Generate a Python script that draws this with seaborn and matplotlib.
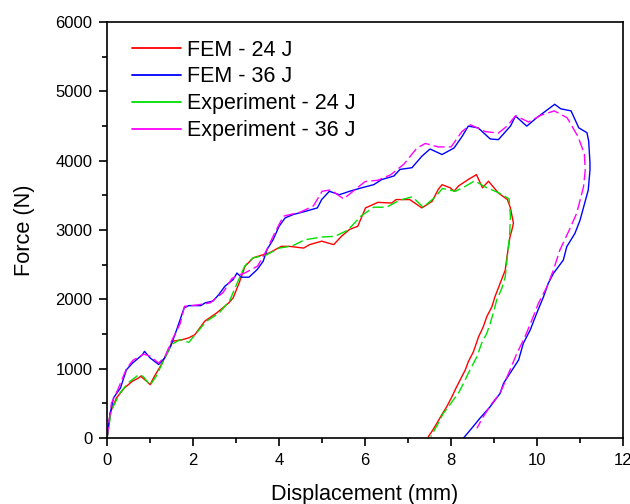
import numpy as np
import pandas as pd
import seaborn as sns
import matplotlib.pyplot as plt
from matplotlib.lines import Line2D
from matplotlib.ticker import MultipleLocator

# FEM - 24 J
fem24_x = [0, 0.07, 0.22, 0.4, 0.59, 0.73, 0.78, 0.92, 1.0, 1.1, 1.24, 1.43, 1.52, 1.76, 1.9, 2.04,
           2.27, 2.55, 2.83, 2.93, 3.07, 3.21, 3.4, 3.63, 3.77, 4.05, 4.24, 4.57, 4.71, 4.99, 5.27,
           5.45, 5.64, 5.83, 6.01, 6.3, 6.62, 6.72, 7.04, 7.32, 7.56, 7.7, 7.79, 7.98, 8.07, 8.17,
           8.4, 8.59, 8.73, 8.87, 9.1, 9.31, 9.38, 9.45, 9.41, 9.37, 9.30, 9.26, 9.14, 9.02, 8.95,
           8.83, 8.75, 8.64, 8.52, 8.40, 8.33, 8.25, 8.13, 8.02, 7.90, 7.78, 7.67, 7.55, 7.47]
fem24_y = [0, 360, 580, 720, 820, 865, 890, 820, 770, 890, 1035, 1275, 1395, 1420, 1445, 1490,
           1685, 1805, 1950, 2020, 2235, 2480, 2600, 2645, 2670, 2765, 2765, 2740, 2790, 2840, 2790,
           2910, 3010, 3055, 3320, 3400, 3390, 3440, 3440, 3320, 3415, 3585, 3655, 3610, 3560, 3635,
           3730, 3800, 3610, 3705, 3535, 3440, 3320, 3100, 2990, 2904, 2615, 2423, 2231, 2038, 1894,
           1750, 1606, 1461, 1245, 1100, 981, 885, 740, 596, 452, 332, 212, 91, 19]

# FEM - 36 J
fem36_x = [0, 0.07, 0.15, 0.31, 0.45, 0.59, 0.82, 0.87, 1.0, 1.2, 1.34, 1.48, 1.62, 1.79, 1.9, 2.18,
           2.28, 2.46, 2.6, 2.74, 2.93, 3.02, 3.12, 3.3, 3.49, 3.63, 3.72, 3.86, 4.0, 4.14, 4.33,
           4.61, 4.89, 4.99, 5.17, 5.4, 5.64, 5.92, 6.2, 6.39, 6.67, 6.81, 7.09, 7.32, 7.51, 7.79,
           8.07, 8.26, 8.4, 8.63, 8.91, 9.1, 9.38, 9.5, 9.76, 9.99, 10.41, 10.55, 10.79, 10.97,
           11.16, 11.2, 11.23, 11.23, 11.19, 11.0, 10.88, 10.69, 10.61, 10.38, 10.26, 10.15, 9.99,
           9.84, 9.68, 9.57, 9.37, 9.22, 9.14, 8.91, 8.67, 8.48, 8.29]
fem36_y = [0, 350, 580, 720, 985, 1080, 1200, 1250, 1155, 1060, 1155, 1325, 1565, 1875, 1910, 1910,
           1950, 1975, 2070, 2190, 2285, 2380, 2320, 2320, 2430, 2550, 2720, 2860, 3055, 3175, 3225,
           3270, 3320, 3440, 3560, 3510, 3560, 3610, 3655, 3730, 3780, 3875, 3900, 4065, 4170, 4090,
           4185, 4355, 4500, 4475, 4315, 4305, 4500, 4645, 4500, 4620, 4815, 4750, 4720, 4475,
           4405, 4285, 3970, 3866, 3577, 3144, 2952, 2760, 2567, 2375, 2231, 2038, 1798,
           1558, 1366, 1125, 933, 789, 644, 452, 284, 140, 0]

# Experiment - 24 J
exp24_x = [0, 0.1, 0.3, 0.5, 0.75, 0.85, 1.0, 1.15, 1.3, 1.5, 1.7, 1.9, 2.1, 2.3, 2.6, 2.85, 3.0,
           3.2, 3.4, 3.7, 4.0, 4.3, 4.6, 5.0, 5.3, 5.6, 5.9, 6.2, 6.5, 6.8, 7.1, 7.35, 7.6, 7.8, 8.1,
           8.3, 8.55, 8.8, 9.1, 9.35, 9.38, 9.36, 9.33, 9.26, 9.18, 9.06, 8.98, 8.91, 8.83, 8.71,
           8.60, 8.48, 8.40, 8.29, 8.17, 8.05, 7.94, 7.82, 7.70, 7.53]
exp24_y = [0, 400, 650, 800, 920, 880, 760, 900, 1100, 1350, 1420, 1380, 1530, 1680, 1800, 1980, 2200,
           2480, 2600, 2640, 2740, 2770, 2860, 2900, 2910, 3000, 3200, 3330, 3330, 3430, 3480, 3330,
           3460, 3600, 3560, 3620, 3710, 3620, 3540, 3450, 3200, 2904, 2750, 2327, 2159, 1990, 1798,
           1654, 1510, 1366, 1173, 1029, 933, 789, 644, 548, 452, 356, 212, 19]

# Experiment - 36 J
exp36_x = [0, 0.1, 0.25, 0.45, 0.6, 0.85, 1.0, 1.2, 1.35, 1.5, 1.7, 1.8, 2.1, 2.4, 2.7, 2.9, 3.05,
           3.2, 3.5, 3.7, 3.9, 4.1, 4.5, 4.8, 5.0, 5.2, 5.5, 5.8, 6.0, 6.3, 6.6, 6.9, 7.2, 7.4, 7.7,
           8.0, 8.25, 8.45, 8.8, 9.1, 9.3, 9.5, 9.8, 10.1, 10.4, 10.7, 10.95, 11.1, 11.12, 11.08,
           10.92, 10.73, 10.53, 10.38, 10.23, 10.03, 9.91, 9.72, 9.53, 9.37, 9.14, 8.95, 8.75, 8.6]
exp36_y = [0, 500, 700, 1000, 1120, 1210, 1180, 1080, 1180, 1400, 1650, 1900, 1920, 1950, 2100, 2300,
           2350, 2380, 2480, 2700, 2960, 3200, 3260, 3350, 3560, 3580, 3450, 3600, 3700, 3720, 3800,
           3950, 4180, 4250, 4200, 4200, 4420, 4520, 4420, 4400, 4500, 4650, 4560, 4660, 4720, 4620,
           4350, 4100, 3866, 3625, 3240, 2976, 2712, 2423, 2183, 1942, 1750, 1461, 1221, 981, 644,
           500, 308, 140]

labels = ["FEM - 24 J", "FEM - 36 J", "Experiment - 24 J", "Experiment - 36 J"]
colors = ["#ff0000", "#0000ff", "#00e000", "#ff00ff"]
series = [(fem24_x, fem24_y), (fem36_x, fem36_y), (exp24_x, exp24_y), (exp36_x, exp36_y)]

sns.set_style("ticks", {"axes.edgecolor": "black", "text.color": "black",
                        "axes.labelcolor": "black", "xtick.color": "black",
                        "ytick.color": "black"})
plt.rcParams["font.family"] = ["Liberation Sans", "DejaVu Sans"]

fig = plt.figure(figsize=(6.3, 5.04), dpi=100)
ax = fig.add_axes([0.170, 0.131, 0.819, 0.825])

for (x, y), lab, col in zip(series, labels, colors):
    df = pd.DataFrame({"x": x, "y": y})
    sns.lineplot(data=df, x="x", y="y", sort=False, estimator=None,
                 color=col, linewidth=1.0, ax=ax)
    if lab.startswith("Experiment"):
        ax.lines[-1].set_dashes((8, 3))

ax.set_xlim(0, 12)
ax.set_ylim(0, 6000)
ax.xaxis.set_major_locator(MultipleLocator(2))
ax.xaxis.set_minor_locator(MultipleLocator(1))
ax.yaxis.set_major_locator(MultipleLocator(1000))
ax.yaxis.set_minor_locator(MultipleLocator(500))
ax.tick_params(which="major", direction="out", length=6, width=1.2, pad=4.5, labelsize=12)
ax.tick_params(which="minor", direction="out", length=3.5, width=1.2)
for s in ax.spines.values():
    s.set_linewidth(1.2)
ax.set_xlabel("Displacement (mm)", fontsize=15.6, labelpad=12)
ax.set_ylabel("Force (N)", fontsize=15.7, labelpad=15)

handles = [Line2D([0], [0], color=c, lw=1.3) for c in colors]
ax.legend(handles, labels, loc="upper left", bbox_to_anchor=(0.048, 0.958), frameon=False,
          borderpad=0, borderaxespad=0, fontsize=15.5, handlelength=2.27,
          handletextpad=0.31, labelspacing=0.27)

fig.savefig("out.png", dpi=100)
